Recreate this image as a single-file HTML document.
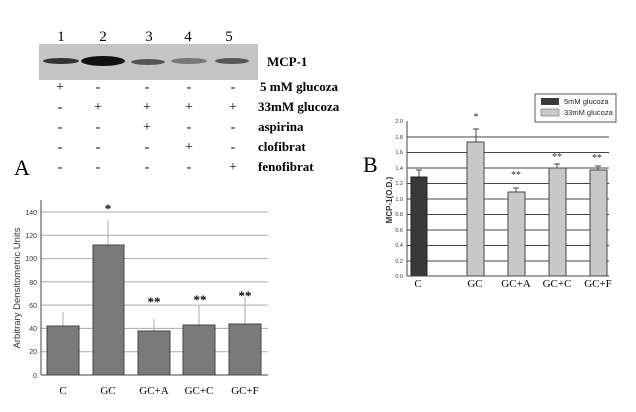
<!DOCTYPE html><html><head><style>body{margin:0;background:#fff}</style></head><body>
<svg width="636" height="407" xmlns="http://www.w3.org/2000/svg" font-family="Liberation Serif, serif">
<rect width="636" height="407" fill="#fff"/>
<g font-size="15" text-anchor="middle"><text x="61" y="41">1</text><text x="103" y="41">2</text><text x="149" y="41">3</text><text x="188" y="41">4</text><text x="229" y="41">5</text></g>
<rect x="39" y="44" width="219" height="36" fill="#c4c4c4"/>
<g fill="#333">
<ellipse cx="61" cy="61" rx="18" ry="3"/><ellipse cx="103" cy="61" rx="22" ry="5" fill="#111"/><ellipse cx="148" cy="62" rx="17" ry="3" fill="#555"/><ellipse cx="189" cy="61" rx="18" ry="3" fill="#777"/><ellipse cx="232" cy="61" rx="17" ry="3" fill="#555"/></g>
<g font-size="13" font-weight="bold"><text x="267" y="66">MCP-1</text><text x="260" y="91">5 mM glucoza</text><text x="258" y="111">33mM glucoza</text><text x="258" y="131">aspirina</text><text x="258" y="151">clofibrat</text><text x="258" y="171">fenofibrat</text></g>
<g font-size="14" text-anchor="middle">
<text x="60" y="91">+</text><text x="98" y="91">-</text><text x="147" y="91">-</text><text x="189" y="91">-</text><text x="233" y="91">-</text>
<text x="60" y="111">-</text><text x="98" y="111">+</text><text x="147" y="111">+</text><text x="189" y="111">+</text><text x="233" y="111">+</text>
<text x="60" y="131">-</text><text x="98" y="131">-</text><text x="147" y="131">+</text><text x="189" y="131">-</text><text x="233" y="131">-</text>
<text x="60" y="151">-</text><text x="98" y="151">-</text><text x="147" y="151">-</text><text x="189" y="151">+</text><text x="233" y="151">-</text>
<text x="60" y="171">-</text><text x="98" y="171">-</text><text x="147" y="171">-</text><text x="189" y="171">-</text><text x="233" y="171">+</text></g>
<text x="14" y="175" font-size="22">A</text>
<g stroke="#aaa" stroke-width="1"><line x1="41" x2="268" y1="212" y2="212"/><line x1="41" x2="268" y1="235.3" y2="235.3"/><line x1="41" x2="268" y1="258.6" y2="258.6"/><line x1="41" x2="268" y1="281.9" y2="281.9"/><line x1="41" x2="268" y1="305.1" y2="305.1"/><line x1="41" x2="268" y1="328.4" y2="328.4"/><line x1="41" x2="268" y1="351.7" y2="351.7"/></g>
<g stroke="#aaa"><line x1="63" x2="63" y1="312" y2="326"/><line x1="108" x2="108" y1="220" y2="245"/><line x1="154" x2="154" y1="319" y2="331"/><line x1="199" x2="199" y1="305" y2="325"/><line x1="245" x2="245" y1="297" y2="324"/></g>
<g fill="#7a7a7a" stroke="#444"><rect x="47" y="326" width="32" height="49"/><rect x="93" y="245" width="31" height="130"/><rect x="138" y="331" width="32" height="44"/><rect x="183" y="325" width="32" height="50"/><rect x="229" y="324" width="32" height="51"/></g>
<line x1="41" y1="200" x2="41" y2="375" stroke="#444"/><line x1="41" y1="375" x2="268" y2="375" stroke="#444"/>
<g font-family="Liberation Sans, sans-serif" font-size="7" text-anchor="end" fill="#333"><text x="37" y="378">0</text><text x="37" y="354">20</text><text x="37" y="331">40</text><text x="37" y="308">60</text><text x="37" y="285">80</text><text x="37" y="261">100</text><text x="37" y="238">120</text><text x="37" y="215">140</text></g>
<text transform="translate(20,288) rotate(-90)" font-family="Liberation Sans, sans-serif" font-size="9.5" text-anchor="middle" fill="#333">Arbitrary Densitometric Units</text>
<g font-size="13" font-weight="bold" text-anchor="middle"><text x="108" y="213">*</text><text x="154" y="306">**</text><text x="200" y="304">**</text><text x="245" y="300">**</text></g>
<g font-size="11" text-anchor="middle"><text x="63" y="394">C</text><text x="108" y="394">GC</text><text x="154" y="394">GC+A</text><text x="199" y="394">GC+C</text><text x="245" y="394">GC+F</text></g>
<text x="363" y="172" font-size="22">B</text>
<rect x="535" y="94" width="81" height="28" fill="#fff" stroke="#555"/>
<rect x="541" y="98" width="18" height="7" fill="#3a3a3a"/><rect x="541" y="109" width="18" height="7" fill="#c8c8c8" stroke="#555" stroke-width=".5"/>
<g font-family="Liberation Sans, sans-serif" font-size="7.5" fill="#222"><text x="564" y="104">5mM glucoza</text><text x="564" y="115">33mM glucoza</text></g>
<g stroke="#444" stroke-width="1"><line x1="407" x2="609" y1="137" y2="137"/><line x1="407" x2="609" y1="152.5" y2="152.5"/><line x1="407" x2="609" y1="168" y2="168"/><line x1="407" x2="609" y1="183.5" y2="183.5"/><line x1="407" x2="609" y1="199" y2="199"/><line x1="407" x2="609" y1="214.5" y2="214.5"/><line x1="407" x2="609" y1="230" y2="230"/><line x1="407" x2="609" y1="245.5" y2="245.5"/><line x1="407" x2="609" y1="261" y2="261"/></g>
<g stroke="#444"><line x1="419" x2="419" y1="170" y2="177"/><line x1="416" x2="422" y1="170" y2="170"/><line x1="476" x2="476" y1="129" y2="142"/><line x1="473" x2="479" y1="129" y2="129"/><line x1="516" x2="516" y1="188" y2="192"/><line x1="513" x2="519" y1="188" y2="188"/><line x1="557" x2="557" y1="164" y2="168"/><line x1="554" x2="560" y1="164" y2="164"/><line x1="598" x2="598" y1="166" y2="170"/><line x1="595" x2="601" y1="166" y2="166"/></g>
<rect x="411" y="177" width="16" height="99" fill="#3a3a3a" stroke="#222"/>
<g fill="#c8c8c8" stroke="#444"><rect x="467" y="142" width="17" height="134"/><rect x="508" y="192" width="17" height="84"/><rect x="549" y="168" width="17" height="108"/><rect x="590" y="170" width="17" height="106"/></g>
<line x1="407" y1="121" x2="407" y2="276" stroke="#444"/><line x1="407" y1="276" x2="609" y2="276" stroke="#444"/>
<g font-family="Liberation Sans, sans-serif" font-size="5.5" text-anchor="end" fill="#333"><text x="403" y="278">0.0</text><text x="403" y="263">0.2</text><text x="403" y="247">0.4</text><text x="403" y="232">0.6</text><text x="403" y="216">0.8</text><text x="403" y="201">1.0</text><text x="403" y="185">1.2</text><text x="403" y="170">1.4</text><text x="403" y="154">1.6</text><text x="403" y="139">1.8</text><text x="403" y="123">2.0</text></g>
<text transform="translate(392,200) rotate(-90)" font-family="Liberation Sans, sans-serif" font-size="8" font-weight="bold" text-anchor="middle" fill="#333">MCP-1(O.D.)</text>
<g font-size="10" text-anchor="middle" fill="#333"><text x="476" y="120">*</text><text x="516" y="178">**</text><text x="557" y="160">**</text><text x="597" y="161">**</text></g>
<g font-size="11" text-anchor="middle"><text x="418" y="287">C</text><text x="475" y="287">GC</text><text x="516" y="287">GC+A</text><text x="557" y="287">GC+C</text><text x="598" y="287">GC+F</text></g>
</svg></body></html>
